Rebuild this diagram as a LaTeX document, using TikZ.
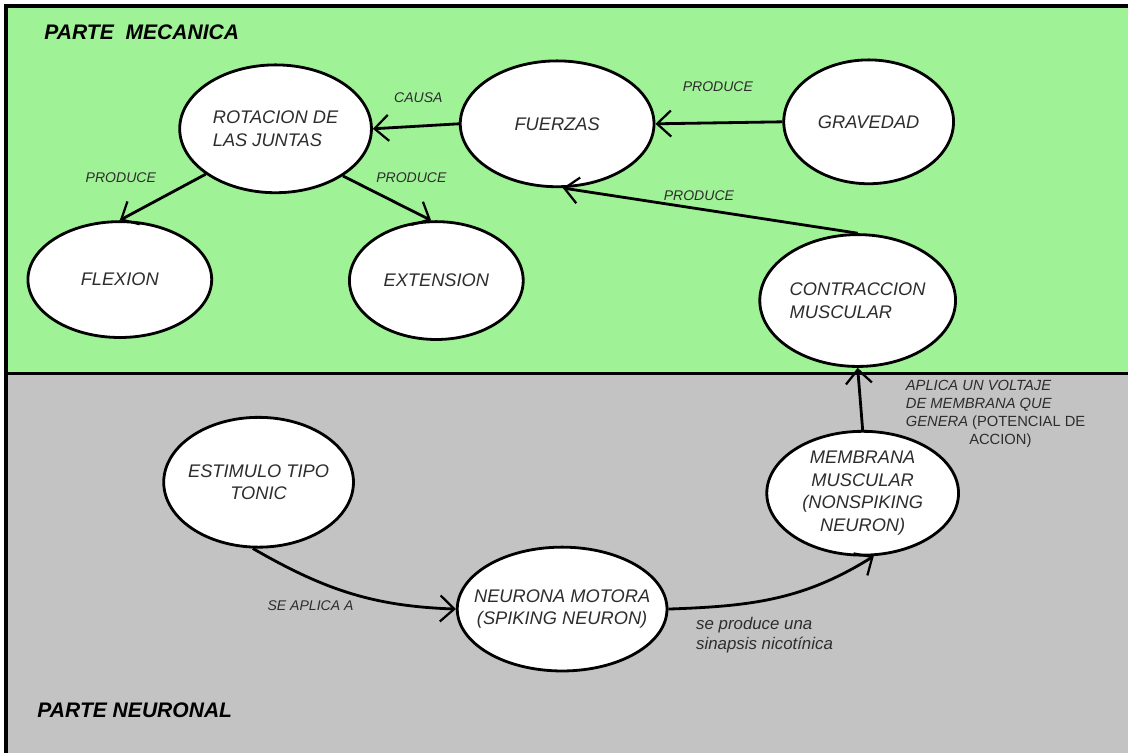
\documentclass[tikz,border=0pt]{standalone}
\usepackage{fontspec}
\setmainfont{Liberation Sans}
\usetikzlibrary{shapes.geometric,arrows.meta}

\definecolor{mecgreen}{RGB}{160,242,150}
\definecolor{neugray}{RGB}{195,195,195}
\definecolor{ink}{RGB}{45,45,45}

\begin{document}
\begin{tikzpicture}[x=0.025cm,y=-0.025cm,
    blob/.style={ellipse,draw=black,line width=2pt,fill=white,inner sep=0pt,
        minimum width=4.8cm,minimum height=3.2cm,text=ink,align=center,
        font=\fontsize{13}{16}\selectfont\itshape},
    lbl/.style={text=ink,inner sep=0pt,font=\fontsize{10}{12.8}\selectfont\itshape},
    link/.style={line width=2pt,-{Straight Barb[length=3.5mm,width=6.5mm,line width=1.6pt]}},
    title/.style={text=black,font=\fontsize{15}{18}\selectfont\bfseries\itshape}]

    % the two panels
    \fill[white] (0,0) rectangle (1130,754);
    \fill[mecgreen] (6,6) rectangle (1130,374);
    \fill[neugray] (6,374) rectangle (1130,754);
    \draw[line width=2.5pt] (6,754) -- (6,6) -- (1130,6);
    \draw[line width=2.2pt] (6,374) -- (1130,374);

    \node[title] (mec) at (142,32) {PARTE\ \ MECANICA};
    \node[title] (neu) at (135,711) {PARTE NEURONAL};

    % mechanical part
    \node[blob,align=left] (rot) at (276,129) {ROTACION DE\\LAS JUNTAS};
    \node[blob,minimum width=4.85cm,minimum height=3.15cm] (fue) at (558,124) {FUERZAS};
    \node[blob,minimum width=4.25cm,minimum height=3.1cm] (gra) at (870,122) {GRAVEDAD};
    \node[blob,minimum width=4.6cm,minimum height=2.9cm] (fle) at (120,280) {FLEXION};
    \node[blob,minimum width=4.35cm,minimum height=2.95cm] (ext) at (437,281) {EXTENSION};
    \node[blob,align=left,minimum width=4.9cm,minimum height=3.3cm] (con) at (859,301) {CONTRACCION\\MUSCULAR};

    % neuronal part
    \node[blob,inner xsep=-0.15cm,minimum width=4.75cm,minimum height=3.25cm] (est) at (259,483) {ESTIMULO TIPO\\TONIC};
    \node[blob,inner xsep=-0.42cm,minimum width=5.25cm,minimum height=3.1cm] (mot) at (563,610) {NEURONA MOTORA\\(SPIKING NEURON)};
    \node[blob,minimum height=3.1cm] (mem) at (864,494) {MEMBRANA\\MUSCULAR\\(NONSPIKING\\NEURON)};

    % connectors
    \draw[link] (fue.west) -- (rot.east);
    \draw[link] (gra.west) -- (fue.east);
    \draw[link] (rot.213) -- (fle.north);
    \draw[link] (rot.-35) -- (ext.95);
    \draw[link] (con.north) -- (fue.-85);
    \draw[link] (mem.north) -- (con.south);
    \draw[link] (est.265) to[out=-30,in=178] (mot.west);
    \draw[link] (mot.east) to[out=2,in=212] (mem.-80);

    % labels
    \node[lbl] (causa) at (419,98) {CAUSA};
    \node[lbl] (pgra) at (719,87) {PRODUCE};
    \node[lbl] (pfle) at (121,178) {PRODUCE};
    \node[lbl] (pext) at (412,178) {PRODUCE};
    \node[lbl] (pcon) at (700,196) {PRODUCE};
    \node[lbl,font=\fontsize{10.5}{12.8}\selectfont\itshape,anchor=north west,align=left] (volt) at (907,381)
        {APLICA UN VOLTAJE\\DE MEMBRANA QUE\\GENERA {\upshape(POTENCIAL DE}\\\hspace*{4.3em}{\upshape ACCION)}};
    \node[lbl] (apl) at (311,607) {SE APLICA A};
    \node[lbl,font=\fontsize{12}{14.5}\selectfont\itshape,anchor=west,align=left] (sin) at (697,636)
        {se produce una\\sinapsis nicotínica};
\end{tikzpicture}
\end{document}
